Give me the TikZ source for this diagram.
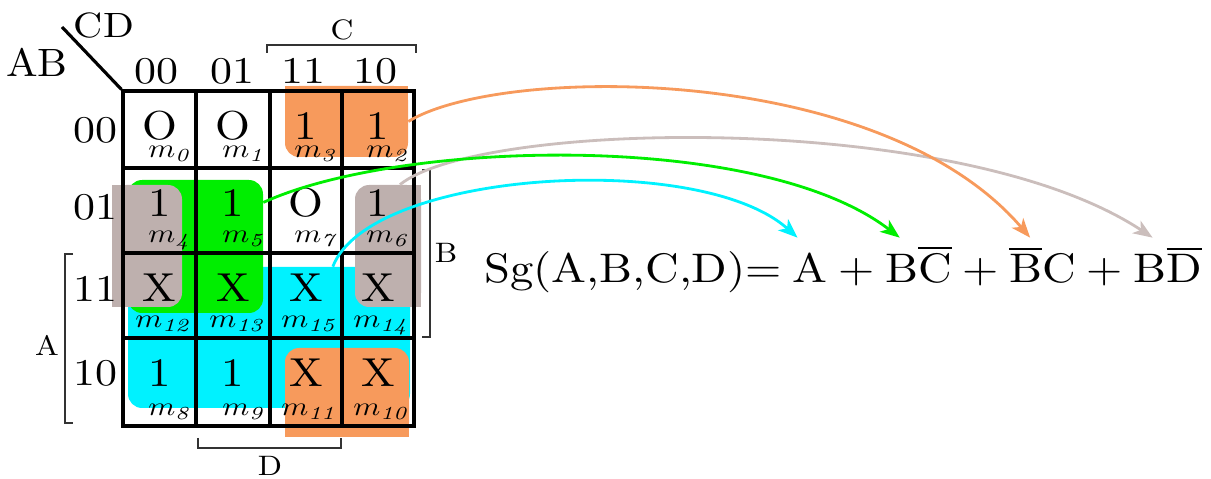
\documentclass[tikz,border=0pt]{standalone}
\usepackage{xcolor}
\usepackage{tikz}
\usetikzlibrary{positioning,arrows.meta,fit}
\definecolor{KmapOrange}{HTML}{F79A5C}
\definecolor{KmapGreen}{HTML}{00EE00}
\definecolor{KmapCyan}{HTML}{00F2FF}
\definecolor{KmapGray}{HTML}{BEB0AE}
\definecolor{LinkGray}{HTML}{CBBEBC}
% the 10pt design, enlarged and a little widened
\newcommand{\cellglyph}[1]{\scalebox{2.55}[2.3]{#1}}
\newcommand{\axisglyph}[1]{\scalebox{2.5}[2.15]{#1}}
\newcommand{\idxglyph}[1]{\scalebox{1.75}[1.5]{#1}}
\newcommand{\varglyph}[1]{\scalebox{1.8}[1.6]{#1}}
\newcommand{\eqglyph}[1]{\scalebox{2.65}[2.35]{#1}}

\begin{document}
\begin{tikzpicture}[
    x=0.02cm, y=-0.02cm,
    node distance=5.7pt,
    group/.style={inner sep=0pt, rounded corners=8pt},
    gridline/.style={line width=1.8pt},
    bracket/.style={line width=0.6pt, draw=black!80},
    cellval/.style={inner sep=0pt},
    cellidx/.style={anchor=base east, inner sep=0pt},
    axislbl/.style={inner sep=0pt},
    eqterm/.style={inner xsep=0pt, text height=18pt, text depth=6.5pt, inner ysep=7.6pt},
    link/.style={line width=1.6pt, -{Stealth[length=11pt,width=8.5pt,inset=3pt]}}
  ]
    \useasboundingbox (0,0) rectangle (1211,479);

    % groups of the map
    \node[group, fill=KmapCyan, fit={(128,267) (410,408)}] (gCyan) {};
    \node[group, fill=KmapGreen, fit={(128,180) (263,313)}] (gGreen) {};
    \node[group, fill=KmapGray, fit={(112,185) (182,307)}] (gGrayL) {};
    \fill[KmapGray] (gGrayL.north west) rectangle (gGrayL.south);
    \node[group, fill=KmapGray, fit={(355,185) (421,307)}] (gGrayR) {};
    \fill[KmapGray] (gGrayR.north) rectangle (gGrayR.south east);
    \node[group, fill=KmapOrange, fit={(285,86) (408,157)}] (gOrangeT) {};
    \fill[KmapOrange] (gOrangeT.north west) rectangle (gOrangeT.east);
    \node[group, fill=KmapOrange, fit={(285,348) (409,437)}] (gOrangeB) {};
    \fill[KmapOrange] (gOrangeB.west) rectangle (gOrangeB.south east);

    % grid
    \node[draw, gridline, inner sep=0pt, fit={(123,91) (414,426)}] (kmap) {};
    \foreach \x in {196,270,342}
      \draw[gridline] (\x,0 |- kmap.north) -- (\x,0 |- kmap.south);
    \foreach \y in {168,253,338}
      \draw[gridline] (kmap.west |- 0,\y) -- (kmap.east |- 0,\y);
    \draw[gridline] (kmap.north west) -- (62,27);
    \node[axislbl] (ab) at (37,62) {\scalebox{2.4}[2.25]{AB}};
    \node[axislbl] (cd) at (104,26) {\scalebox{2.3}[2.0]{CD}};

    \foreach \t/\x in {00/156,01/232,11/303,10/375}
      \node[axislbl] (col\t) at (\x,71) {\axisglyph{\t}};
    \foreach \t/\y in {00/130,01/207,11/289,10/373}
      \node[axislbl] (row\t) at (95,\y) {\axisglyph{\t}};

    % cells
    \foreach \val/\idx [count=\n from 0] in {O/0,O/1,1/3,1/2,1/4,1/5,O/7,1/6,
        X/12,X/13,X/15,X/14,1/8,1/9,X/11,X/10} {
      \pgfmathtruncatemacro\c{mod(\n,4)}
      \pgfmathtruncatemacro\r{int(\n/4)}
      \pgfmathsetmacro\xl{{123,196,270,342,414}[\c]}
      \pgfmathsetmacro\xr{{123,196,270,342,414}[\c+1]}
      \pgfmathsetmacro\yt{{91,168,253,338,426}[\r]}
      \pgfmathsetmacro\yb{{91,168,253,338,426}[\r+1]}
      \node[cellval] (v\idx) at ({(\xl+\xr)/2}, \yt+35) {\cellglyph{\val}};
      \node[cellidx] (m\idx) at (\xr-3, \yb-10) {\idxglyph{$m_{\mathit{\idx}}$}};
    }

    % brackets
    \draw[bracket] (267,53) -- (267,45) -- (416,45) -- (416,53);
    \node[axislbl] (lblC) at (342,30) {\varglyph{C}};
    \draw[bracket] (198,438) -- (198,448) -- (341,448) -- (341,438);
    \node[axislbl] (lblD) at (270,466) {\varglyph{D}};
    \draw[bracket] (73,254) -- (65,254) -- (65,423) -- (73,423);
    \node[axislbl] (lblA) at (47,345) {\varglyph{A}};
    \draw[bracket] (422,170) -- (430,170) -- (430,337) -- (422,337);
    \node[axislbl] (lblB) at (446,253) {\varglyph{B}};

    % expression
    \node[eqterm, anchor=base west] (eqlhs) at (484,283) {\eqglyph{Sg(A,B,C,D)=}};
    \node[eqterm, base right=of eqlhs] (tA) {\eqglyph{A}};
    \node[eqterm, base right=of tA] (plus1) {\eqglyph{+}};
    \node[eqterm, base right=of plus1] (tBnC) {\eqglyph{B$\overline{\mbox{C}}$}};
    \node[eqterm, base right=of tBnC] (plus2) {\eqglyph{+}};
    \node[eqterm, base right=of plus2] (tnBC) {\eqglyph{$\overline{\mbox{B}}$C}};
    \node[eqterm, base right=of tnBC] (plus3) {\eqglyph{+}};
    \node[eqterm, base right=of plus3] (tBnD) {\eqglyph{B$\overline{\mbox{D}}$}};

    % links
    \draw[link, draw=LinkGray] (gGrayR.79) .. controls (480,120) and (960,110) .. ([xshift=11pt]tBnD.north west);
    \draw[link, draw=KmapCyan] (gCyan.48) .. controls (370,170) and (700,150) .. ([xshift=3pt]tA.north west);
    \draw[link, draw=KmapGreen] (gGreen.33) .. controls (400,140) and (760,130) .. ([xshift=8.5pt]tBnC.north west);
    \draw[link, draw=KmapOrange] (gOrangeT.east) .. controls (500,65) and (880,62) .. ([xshift=12pt]tnBC.north west);
  \end{tikzpicture}
\end{document}
